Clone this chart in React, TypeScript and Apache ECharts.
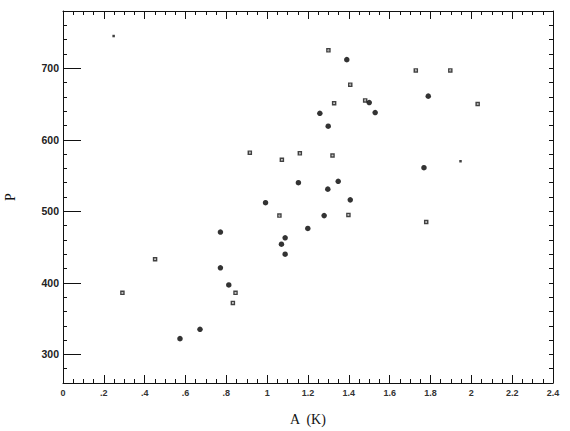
import React, { useEffect, useRef } from "react";
import * as echarts from "echarts";

// A (K) and P values
const filledA = [1.390, 1.789, 1.500, 1.529, 1.258, 1.299, 1.153, 1.348, 0.992, 1.297, 1.407, 1.768, 1.279, 1.199, 0.771, 1.088, 1.070, 1.088, 0.771, 0.812, 0.671, 0.573];
const filledP = [712, 661, 652, 638, 637, 619, 540, 542, 512, 531, 516, 561, 494, 476, 471, 463, 454, 440, 421, 397, 335, 322];

const crossA = [1.300, 1.407, 1.728, 1.897, 1.328, 1.480, 2.031, 0.915, 1.160, 1.072, 1.320, 1.060, 1.398, 1.779, 0.451, 0.291, 0.845, 0.832];
const crossP = [725, 677, 697, 697, 651, 655, 650, 582, 581, 572, 578, 494, 495, 485, 433, 386, 386, 372];

const dotA = [0.248, 1.947];
const dotP = [745, 570];

const yMajorTicks = [300, 400, 500, 600, 700];

const xFmt = (v: number) => {
  const r = Math.round(v * 10) / 10;
  if (r === 0) return "0";
  const s = String(r);
  return s.startsWith("0.") ? s.slice(1) : s;
};

const zip = (a: number[], b: number[]) => a.map((x, i) => [x, b[i]]);

const CROSS = "path://M0,0L10,0L10,10L0,10Z M3.2,3.2L3.2,6.8L6.8,6.8L6.8,3.2Z M4.3,4.3L5.7,4.3L5.7,5.7L4.3,5.7Z";

export default function App() {
  const ref = useRef<HTMLDivElement>(null);
  useEffect(() => {
    if (!ref.current) return;
    const chart = echarts.init(ref.current, undefined, { renderer: "svg" });
    const lineStyle = { color: "#111", width: 1 };
    const xBase = {
      type: "value" as const,
      min: 0,
      max: 2.4,
      interval: 0.2,
      splitLine: { show: false },
      axisLine: { show: true, onZero: false, lineStyle },
      axisTick: { show: true, inside: true, length: 8, lineStyle },
      minorTick: { show: true, splitNumber: 4, length: 4, lineStyle },
    };
    const yMinor = {
      type: "value" as const,
      min: 260,
      max: 780,
      interval: 20,
      splitLine: { show: false },
      axisLine: { show: true, onZero: false, lineStyle },
      axisTick: { show: true, inside: true, length: 4, lineStyle },
    };
    const yMajor = {
      type: "value" as const,
      min: 260,
      max: 780,
      offset: -9,
      splitLine: { show: false },
      axisLine: { show: false },
      axisLabel: { show: false },
      axisTick: { show: true, inside: false, length: 9, lineStyle, customValues: yMajorTicks },
    };
    chart.setOption({
      animation: false,
      backgroundColor: "#fff",
      grid: { left: 63, right: 17, top: 11, bottom: 48, containLabel: false, outerBoundsMode: "none" },
      xAxis: [
        {
          ...xBase,
          position: "bottom",
          name: "A  (K)",
          nameLocation: "middle",
          nameGap: 29,
          nameTextStyle: { fontFamily: "Liberation Serif", fontSize: 14, color: "#111" },
          axisLabel: {
            show: true,
            margin: 5,
            formatter: xFmt,
            fontFamily: "Liberation Sans",
            fontWeight: "bold",
            fontSize: 9,
            color: "#333",
          },
        },
        { ...xBase, position: "top", axisLabel: { show: false } },
      ],
      yAxis: [
        {
          ...yMinor,
          position: "left",
          name: "P",
          nameLocation: "middle",
          nameGap: 46,
          nameRotate: 90,
          nameTextStyle: { fontFamily: "Liberation Serif", fontSize: 14, color: "#111" },
          axisLabel: {
            show: true,
            interval: 0,
            margin: 4,
            formatter: (v: number) => (yMajorTicks.includes(Math.round(v)) ? String(Math.round(v)) : ""),
            fontFamily: "Liberation Sans",
            fontWeight: "bold",
            fontSize: 10.5,
            color: "#222",
          },
        },
        { ...yMinor, position: "right", axisLabel: { show: false } },
        { ...yMajor, position: "left" },
        { ...yMajor, position: "right" },
      ],
      series: [
        {
          type: "scatter",
          data: zip(filledA, filledP),
          symbol: "circle",
          symbolSize: 5.5,
          itemStyle: { color: "#000" },
        },
        {
          type: "scatter",
          data: zip(crossA, crossP),
          symbol: CROSS,
          symbolSize: 4.5,
          itemStyle: { color: "#111" },
        },
        {
          type: "scatter",
          data: zip(dotA, dotP),
          symbol: "rect",
          symbolSize: 2.5,
          itemStyle: { color: "#111" },
        },
      ],
    });
    return () => chart.dispose();
  }, []);
  return (
    <div
      ref={ref}
      style={{ position: "fixed", left: 0, top: 0, width: 570, height: 431, background: "#fff" }}
    />
  );
}
